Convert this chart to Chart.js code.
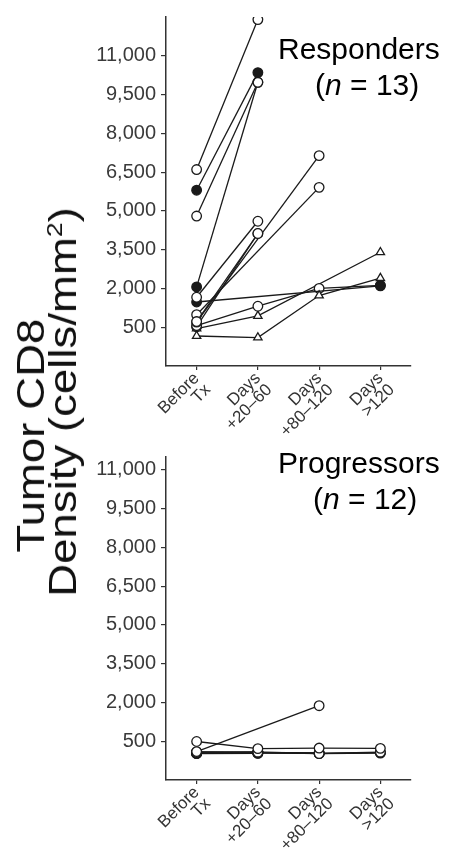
<!DOCTYPE html>
<html>
<head>
<meta charset="utf-8">
<script src="https://cdn.jsdelivr.net/npm/chart.js@4.4.1/dist/chart.umd.min.js"></script>
<style>
  body { margin: 0; background: #fff; width: 452px; height: 848px; position: relative; overflow: hidden;
         font-family: "Liberation Sans", Arial, sans-serif; }
  canvas { position: absolute; left: 0; }
  #topChart { top: 0; }
  #bottomChart { top: 440px; }
  .note { position: absolute; font-size: 30px; line-height: 36px; color: #000; white-space: nowrap; }
  #ytitle { position: absolute; left: 47px; top: 402px;
            transform: translate(-50%, -50%) rotate(-90deg) scaleX(1.2);
            font-size: 38px; line-height: 32px; text-align: center; white-space: nowrap; color: #111; }
  #ytitle .first { display: inline-block; margin-right: 56px; }
  #ytitle sup { font-size: 22px; line-height: 0; }
</style>
</head>
<body>
<canvas id="topChart" width="452" height="440"></canvas>
<canvas id="bottomChart" width="452" height="408"></canvas>
<div id="ytitle"><span class="first">Tumor CD8</span><br>Density (cells/mm<sup>2</sup>)</div>
<div class="note" style="left:278px; top:31px;">Responders</div>
<div class="note" style="left:315px; top:67px;">(<i>n</i> = 13)</div>
<div class="note" style="left:278px; top:445px;">Progressors</div>
<div class="note" style="left:313px; top:481px;">(<i>n</i> = 12)</div>
<script>
const categories = [["Before", "Tx"], ["Days", "+20\u201360"], ["Days", "+80\u2013120"], ["Days", ">120"]];
const yTicks = [500, 2000, 3500, 5000, 6500, 8000, 9500, 11000];

// responders, one row per patient (null = no biopsy)
const responders = [
  [6600, 12400, null, null],
  [5800, 10350, null, null],
  [4800, 9975, null, null],
  [2060, 9975, null, null],
  [1660, 4600, null, null],
  [720, 4125, null, null],
  [700, null, 7136, null],
  [985, null, 5911, null],
  [1475, null, null, 2100],
  [160, 100, 1725, 2400],
  [560, 1312, 2000, 2120],
  [450, 937, null, 3400],
  [520, 4125, null, null]
];
// o = open circle, f = filled circle, t = triangle
const responderMarks = [
  ["o", "o"], ["f", "f"], ["o", "o"], ["f", "o"], ["o", "o"], ["o", "o"],
  ["o", "o", "o"], ["o", "o", "o"], ["f", "f", "f", "f"],
  ["t", "t", "t", "t"], ["o", "o", "o", "f"], ["t", "t", "t", "t"], ["o", "o"]
];

const progressors = [
  [100, null, 1875, null],
  [490, 214, 236, 225],
  [60, 75, 25, 75],
  [70, 60, 40, null],
  [40, 50, null, null],
  [30, 40, 30, 60],
  [80, 90, null, null],
  [50, 70, 50, null],
  [20, 30, null, null],
  [90, 60, 20, 40],
  [45, null, null, null],
  [65, 55, null, null]
];
const progressorMarks = progressors.map(() => ["o", "o", "o", "o"]);

const ink = "#1a1a1a";
const axisInk = "#333";
const font = "'Liberation Sans', Arial, sans-serif";

function makePanel(canvas, series, marks, yMax, topPad, xHeight) {
  return new Chart(canvas, {
    type: "line",
    data: {
      labels: categories,
      datasets: series.map((vals, i) => ({
        data: vals,
        spanGaps: true,
        borderColor: ink,
        borderWidth: 1.3,
        tension: 0,
        pointRadius: 4.8,
        pointBorderWidth: 1.3,
        pointBorderColor: ink,
        pointStyle: vals.map((v, j) => (marks[i][j] === "t" ? "triangle" : "circle")),
        pointBackgroundColor: vals.map((v, j) => (marks[i][j] === "f" ? ink : "#fff")),
      })),
    },
    options: {
      responsive: false,
      animation: false,
      devicePixelRatio: 1,
      layout: { padding: { left: 0, right: 41, top: topPad, bottom: 0 } },
      plugins: { legend: { display: false }, tooltip: { enabled: false } },
      scales: {
        x: {
          offset: true,
          grid: { display: true, drawOnChartArea: false, tickLength: 4, color: axisInk, lineWidth: 1.2 },
          border: { display: true, color: axisInk, width: 1.5 },
          ticks: {
            autoSkip: false,
            minRotation: 45,
            maxRotation: 45,
            padding: 0,
            color: axisInk,
            font: { family: font, size: 17, lineHeight: 0.95 },
          },
          afterFit: (s) => { s.height = xHeight; },
        },
        y: {
          min: -1000,
          max: yMax,
          afterBuildTicks: (s) => { s.ticks = yTicks.map((v) => ({ value: v })); },
          grid: { display: true, drawOnChartArea: false, tickLength: 5, color: axisInk, lineWidth: 1.2 },
          border: { display: true, color: axisInk, width: 1.5 },
          ticks: {
            padding: 5,
            color: "#3a3a3a",
            font: { family: font, size: 20 },
            callback: (v) => v.toLocaleString("en-US"),
          },
          afterFit: (s) => { s.width = 166; },
        },
      },
    },
  });
}

makePanel(document.getElementById("topChart"), responders, responderMarks, 12500, 5, 74);
makePanel(document.getElementById("bottomChart"), progressors, progressorMarks, 11500, 7, 68);
</script>
</body>
</html>
